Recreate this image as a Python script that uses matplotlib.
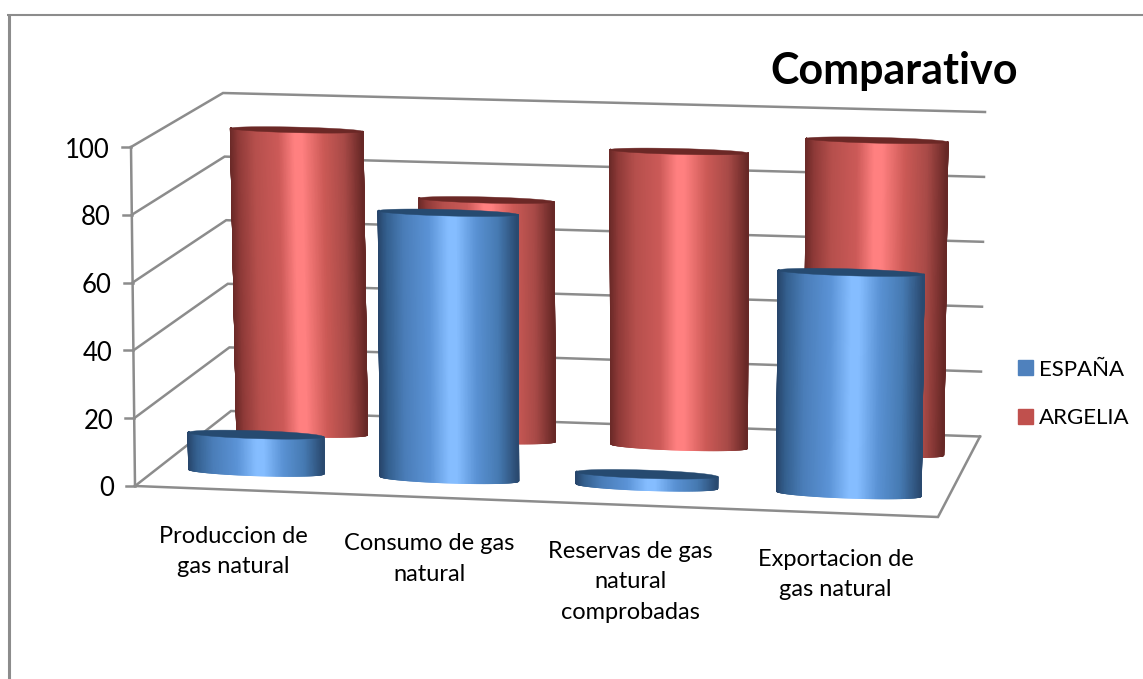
import numpy as np
import matplotlib
matplotlib.use('Agg')
import matplotlib.pyplot as plt
from matplotlib.collections import PolyCollection
from matplotlib.colors import LinearSegmentedColormap
from matplotlib.patches import Patch, Polygon

# Datos del grafico
categorias = ['Produccion de\ngas natural', 'Consumo de gas\nnatural',
              'Reservas de gas\nnatural\ncomprobadas', 'Exportacion de\ngas natural']
espana = [11, 79, 3.5, 65]
argelia = [93.5, 73.5, 90, 95]
ticks = [0, 20, 40, 60, 80, 100]

GRIS = '#8c8c8c'
plt.rcParams['font.family'] = ['Lato', 'DejaVu Sans']

# Esquinas del piso y del techo en pixeles (x de categoria, d de profundidad)
esq_mundo = [(0, 0), (4, 0), (4, 1), (0, 1)]
esq_piso = [(135, 486), (938, 517), (980, 436.5), (231, 411)]
esq_techo = [(131, 147), (943, 170), (985, 112), (223, 93)]


def homografia(origen, destino):
    filas = []
    for (x, y), (u, v) in zip(origen, destino):
        filas.append([x, y, 1, 0, 0, 0, -u * x, -u * y])
        filas.append([0, 0, 0, x, y, 1, -v * x, -v * y])
    h = np.linalg.solve(np.array(filas, float), np.array(destino, float).ravel())
    return np.append(h, 1).reshape(3, 3)


H_piso = homografia(esq_mundo, esq_piso)
H_techo = homografia(esq_mundo, esq_techo)


def aplicar(H, x, d):
    p = H @ np.array([x, d, np.ones_like(x)], float)
    return p[:2] / p[2]


# Proyecta un punto (categoria, profundidad, valor) a la imagen
def proyectar(x, d, valor):
    x = np.asarray(x, float)
    d = np.asarray(d, float)
    a = aplicar(H_piso, x, d)
    b = aplicar(H_techo, x, d)
    return a + (b - a) * valor / 100.0


def cilindro(ax, centro, prof, valor, cmap, tapa, z, radio=0.353, radio_d=0.05):
    # solo la mitad de adelante, de izquierda a derecha
    t = np.linspace(np.pi * 0.97, np.pi * 2.03, 241)
    xs = centro + radio * np.cos(t)
    ds = prof + radio_d * np.sin(t)
    base = proyectar(xs, ds, 0)
    arriba = proyectar(xs, ds, valor)
    x_min, x_max = base[0].min(), base[0].max()
    polys, colores = [], []
    for i in range(240):
        polys.append([base[:, i], base[:, i + 1], arriba[:, i + 1], arriba[:, i]])
        colores.append(cmap((base[0, i] - x_min) / (x_max - x_min)))
    ax.add_collection(PolyCollection(polys, facecolors=colores, edgecolors='face',
                                     linewidths=0.9, zorder=z))
    # tapa superior
    t = np.linspace(0, 2 * np.pi, 181)
    tapa_xy = proyectar(centro + radio * np.cos(t), prof + radio_d * np.sin(t), valor)
    ax.add_patch(Polygon(tapa_xy.T, closed=True, facecolor=tapa, edgecolor=tapa, linewidth=0.3, zorder=z + 0.5))


azules = LinearSegmentedColormap.from_list('azul', [
    (0.0, '#27456b'), (0.06, '#34608f'), (0.18, '#4a7db8'), (0.36, '#5b93d6'),
    (0.50, '#85bdff'), (0.56, '#85bdff'), (0.70, '#5a92d4'), (0.86, '#467ab2'), (1.0, '#2a4a70')])
rojos = LinearSegmentedColormap.from_list('rojo', [
    (0.0, '#6b2a28'), (0.06, '#8f3a38'), (0.18, '#b54f4c'), (0.36, '#cc5a58'),
    (0.48, '#ff8080'), (0.54, '#ff8080'), (0.70, '#cc5a56'), (0.86, '#a84a47'), (1.0, '#672826')])

fig = plt.figure(figsize=(11.43, 6.79), dpi=100)
ax = fig.add_axes([0, 0, 1, 1])
ax.set_xlim(0, 1143)
ax.set_ylim(679, 0)
ax.axis('off')

# Marco
ax.plot([8.5, 8.5], [679, 14.5], color=GRIS, lw=2.2, solid_capstyle='butt')
ax.plot([7, 1143], [14.5, 14.5], color=GRIS, lw=1.5, solid_capstyle='butt')

# Paredes y piso
for v in ticks:
    p = proyectar([0, 0, 4], [0, 1, 1], v)
    ax.plot(p[0], p[1], color=GRIS, lw=1.8, solid_joinstyle='miter', zorder=1)
    f = proyectar(0, 0, v)
    ax.plot([f[0] - 9, f[0]], [f[1], f[1]], color=GRIS, lw=1.8, zorder=1)
    ax.text(f[0] - 21, f[1] + 3, str(v), ha='right', va='center', fontsize=18.5, color='black')
p = proyectar([0, 0], [0, 0], [0, 100])
ax.plot(p[0], p[1], color=GRIS, lw=1.8, zorder=1)
p = proyectar([0, 4, 4], [0, 0, 1], 0)
ax.plot(p[0], p[1], color=GRIS, lw=1.8, solid_joinstyle='miter', zorder=1)

# Cilindros: primero la fila de atras
for i, v in enumerate(argelia):
    cilindro(ax, i + 0.515, 0.74, v, rojos, '#6b2826', 3 + i)
for i, v in enumerate(espana):
    cilindro(ax, i + 0.515, 0.23, v, azules, '#264a70', 8 + i)

# Etiquetas de categoria
for i, c in enumerate(categorias):
    p = proyectar(i + 0.5, 0, 0)
    ax.text(p[0] + 2, p[1] + 36, c, ha='center', va='top', fontsize=17, color='black', linespacing=1.55)

ax.text(894.5, 71, 'Comparativo', ha='center', va='center', fontsize=31, fontweight='bold', color='black')

manijas = [Patch(color='#4f81bd'), Patch(color='#c0504d')]
ax.legend(manijas, ['ESPAÑA', 'ARGELIA'], loc='center left', bbox_to_anchor=(1018, 394),
          bbox_transform=ax.transData, frameon=False, fontsize=16, handlelength=0.68, handleheight=0.68,
          handletextpad=0.27, labelspacing=1.3, borderpad=0, borderaxespad=0)

fig.savefig('out.png', dpi=100)
